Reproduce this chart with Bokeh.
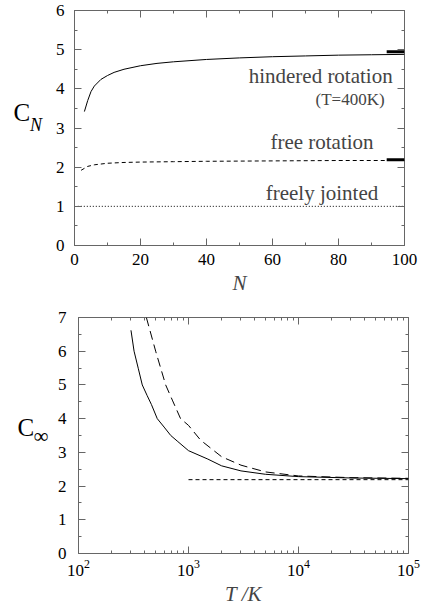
from bokeh.plotting import figure
from bokeh.models import (LinearAxis, LogAxis, FixedTicker, Label, Range1d,
                          SingleIntervalTicker)
from bokeh.core.properties import value
from bokeh.layouts import column, row
from bokeh.embed import file_html
from bokeh.resources import INLINE

# ---------------- data: top panel (C_N vs N) ----------------
N_hind = [3, 4, 5, 6, 8, 10, 12, 15, 20, 25, 30, 40, 50, 60, 70, 80, 90, 100]
C_hind = [3.42, 3.7, 3.93, 4.07, 4.24, 4.34, 4.42, 4.5, 4.59, 4.65, 4.69, 4.75,
          4.79, 4.82, 4.84, 4.86, 4.87, 4.88]
N_free = [2, 3, 4, 6, 8, 10, 15, 20, 30, 40, 60, 80, 100]
C_free = [1.92, 1.97, 2.02, 2.06, 2.08, 2.1, 2.12, 2.13, 2.14, 2.15, 2.16, 2.17, 2.17]
N_fj = [1, 100]
C_fj = [1.0, 1.0]
hind_limit = 4.95
free_limit = 2.19
limit_N = [94.6, 100]

# ---------------- data: bottom panel (C_inf vs T) ----------------
T_solid = [300, 320, 350, 380, 420, 460, 520, 600, 690, 800, 1000, 1500, 2000,
           3000, 5000, 10000, 30000, 100000]
C_solid = [6.62, 6.0, 5.48, 5.0, 4.69, 4.42, 4.0, 3.75, 3.5, 3.32, 3.05, 2.8, 2.6,
           2.45, 2.35, 2.28, 2.24, 2.22]
T_dash = [414, 503, 620, 713, 847, 1000, 1290, 2000, 3000, 5000, 10000, 30000, 100000]
C_dash = [7.0, 6.0, 5.0, 4.55, 4.0, 3.8, 3.36, 2.87, 2.62, 2.42, 2.3, 2.25, 2.23]
T_free = [1000, 100000]
C_free_T = [2.19, 2.19]

bot_xticks = [100, 1000, 10000, 100000]
bot_xlabels = {"100": "10²", "1000": "10³", "10000": "10⁴", "100000": "10⁵"}

FONT = "Liberation Serif, Times New Roman, serif"
FRAME = "#666666"
LABW = 52


def style_axis(ax, show_labels=True, standoff=8):
    ax.axis_line_color = None
    ax.major_tick_in = 7
    ax.major_tick_out = 0
    ax.minor_tick_in = 3
    ax.minor_tick_out = 0
    ax.major_tick_line_color = FRAME
    ax.minor_tick_line_color = FRAME
    ax.major_label_text_font = FONT
    ax.major_label_text_color = "black"
    ax.major_label_standoff = standoff
    if show_labels:
        ax.major_label_text_font_size = "17px"
    else:
        ax.major_label_text_font_size = "1px"
        ax.major_label_text_color = None
        ax.major_label_standoff = 0


def label_fig(h, texts, xs, ys, sizes, styles):
    f = figure(width=LABW, height=h, output_backend="svg", toolbar_location=None,
               x_range=Range1d(0, LABW), y_range=Range1d(0, h),
               min_border=0, x_axis_location=None, y_axis_location=None)
    f.grid.visible = False
    f.outline_line_color = None
    for t, x, y, s, st in zip(texts, xs, ys, sizes, styles):
        f.text(x=[x], y=[y], text=[t], text_font=value(FONT), text_font_size=s,
               text_font_style=st, text_align="left", text_baseline="middle",
               text_color="black")
    return f


# ================= top figure =================
p1 = figure(width=424 - LABW, height=300, output_backend="svg", toolbar_location=None,
            x_range=Range1d(0, 100), y_range=Range1d(0, 6),
            min_border_left=73 - LABW, min_border_right=20, min_border_top=10,
            min_border_bottom=55, x_axis_location=None, y_axis_location=None)
p1.grid.visible = False
p1.outline_line_color = FRAME
p1.outline_line_width = 1

xt1 = SingleIntervalTicker(interval=20, num_minor_ticks=2)
yt1 = SingleIntervalTicker(interval=1, num_minor_ticks=2)
for side, show in (("below", True), ("above", False)):
    ax = LinearAxis(ticker=xt1)
    style_axis(ax, show, standoff=8)
    if side == "below":
        ax.axis_label = "N"
        ax.axis_label_text_font = FONT
        ax.axis_label_text_font_style = "italic"
        ax.axis_label_text_font_size = "21px"
        ax.axis_label_standoff = 3
    p1.add_layout(ax, side)
for side, show in (("left", True), ("right", False)):
    ax = LinearAxis(ticker=yt1)
    style_axis(ax, show, standoff=10)
    p1.add_layout(ax, side)

p1.line(N_hind, C_hind, line_color="black", line_width=1)
p1.line(N_free, C_free, line_color="black", line_width=1, line_dash="4 3")
p1.line(N_fj, C_fj, line_color="black", line_width=1, line_dash="1 2")
p1.line(limit_N, [hind_limit, hind_limit], line_color="black", line_width=3)
p1.line(limit_N, [free_limit, free_limit], line_color="black", line_width=3)

p1.add_layout(Label(x=74.6, y=4.34, text="hindered rotation", text_font=FONT,
                    text_font_size="21px", text_align="center",
                    text_baseline="middle"))
p1.add_layout(Label(x=83.5, y=3.73, text="(T=400K)", text_font=FONT,
                    text_font_size="17px", text_align="center",
                    text_baseline="middle"))
p1.add_layout(Label(x=75, y=2.63, text="free rotation", text_font=FONT,
                    text_font_size="21px", text_align="center",
                    text_baseline="middle"))
p1.add_layout(Label(x=75, y=1.35, text="freely jointed", text_font=FONT,
                    text_font_size="21px", text_align="center",
                    text_baseline="middle"))

lab1 = label_fig(300, ["C", "N"], [13, 29.5], [170, 154],
                 ["25px", "18px"], ["normal", "italic"])

# ================= bottom figure =================
p2 = figure(width=424 - LABW, height=310, output_backend="svg", toolbar_location=None,
            x_axis_type="log", x_range=Range1d(100, 100000), y_range=Range1d(0, 7),
            min_border_left=78 - LABW, min_border_right=16, min_border_top=17,
            min_border_bottom=57, x_axis_location=None, y_axis_location=None)
p2.grid.visible = False
p2.outline_line_color = FRAME
p2.outline_line_width = 1

minor_log = [m * 10 ** e for e in (2, 3, 4) for m in range(2, 10)]
xt2 = FixedTicker(ticks=bot_xticks, minor_ticks=minor_log)
yt2 = SingleIntervalTicker(interval=1, num_minor_ticks=2)
for side, show in (("below", True), ("above", False)):
    ax = LogAxis(ticker=xt2)
    style_axis(ax, show, standoff=6)
    if side == "below":
        ax.major_label_overrides = bot_xlabels
        ax.axis_label = "T /K"
        ax.axis_label_text_font = FONT
        ax.axis_label_text_font_style = "italic"
        ax.axis_label_text_font_size = "21px"
        ax.axis_label_standoff = 3
    p2.add_layout(ax, side)
for side, show in (("left", True), ("right", False)):
    ax = LinearAxis(ticker=yt2)
    style_axis(ax, show, standoff=12)
    p2.add_layout(ax, side)

p2.line(T_solid, C_solid, line_color="black", line_width=1)
p2.line(T_dash, C_dash, line_color="black", line_width=1, line_dash="9 5")
p2.line(T_free, C_free_T, line_color="black", line_width=1, line_dash="4 3")

lab2 = label_fig(310, ["C", "∞"], [17, 33], [166, 155],
                 ["25px", "21px"], ["normal", "normal"])

layout = column(row(lab1, p1, spacing=0), row(lab2, p2, spacing=0), spacing=0)
open("out.html", "w").write(file_html(layout, INLINE))
